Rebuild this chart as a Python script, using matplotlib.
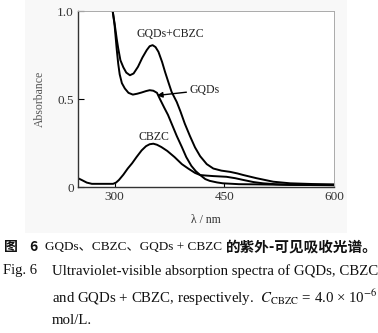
import matplotlib
matplotlib.use("Agg")
import matplotlib.pyplot as plt
from matplotlib.patches import Rectangle

plt.rcParams['mathtext.fontset'] = 'stix'

# ---- data ----
wl_mix = [297.4, 300, 303, 305, 308, 312, 316, 321, 326, 332, 338, 344, 348, 352, 356, 360,
          365, 369, 374, 378, 385, 390, 396, 403, 410, 417, 426, 435, 446, 458, 468, 476,
          494, 517, 540, 570, 600]
abs_mix = [1.0, 0.93, 0.84, 0.787, 0.72, 0.68, 0.65, 0.635, 0.645, 0.683, 0.735, 0.778, 0.80,
           0.806, 0.795, 0.768, 0.71, 0.654, 0.59, 0.54, 0.483, 0.43, 0.36, 0.29, 0.225, 0.175,
           0.13, 0.105, 0.093, 0.086, 0.077, 0.068, 0.050, 0.030, 0.021, 0.017, 0.015]

wl_gqd = [297.4, 300, 303, 305, 307, 310, 314, 319, 325, 331, 337, 343, 348, 353, 358, 362,
          368, 373, 378, 385, 392, 398, 405, 411, 417, 424, 430, 440, 448, 470, 494, 540, 600]
abs_gqd = [1.0, 0.92, 0.78, 0.70, 0.64, 0.59, 0.56, 0.535, 0.525, 0.53, 0.537, 0.545, 0.55,
           0.547, 0.535, 0.50, 0.45, 0.41, 0.36, 0.29, 0.227, 0.17, 0.12, 0.09, 0.068, 0.045,
           0.035, 0.026, 0.021, 0.016, 0.015, 0.012, 0.011]

wl_cbzc = [250, 255, 262, 269, 280, 290, 298, 302, 306, 312, 318, 324, 330, 337, 343, 348, 353,
           358, 364, 372, 382, 392, 401, 410, 417, 425, 435, 453, 465, 476, 490, 503, 520, 540,
           570, 600]
abs_cbzc = [0.05, 0.04, 0.025, 0.018, 0.018, 0.018, 0.018, 0.025, 0.04, 0.07, 0.105, 0.135,
            0.17, 0.208, 0.232, 0.243, 0.246, 0.24, 0.227, 0.205, 0.17, 0.13, 0.104, 0.08,
            0.068, 0.065, 0.062, 0.058, 0.05, 0.040, 0.028, 0.021, 0.016, 0.013, 0.011, 0.01]

x_ticks = [300, 450, 600]
x_ticklabels = ["300", "450", "600"]
y_ticks = [0, 0.5, 1.0]
y_ticklabels = ["0", "0.5", "1.0"]

W, H = 378, 333
fig = plt.figure(figsize=(W / 100, H / 100), dpi=100)
fig.patch.set_facecolor('white')

# faint background of the scanned chart region
bg = fig.add_axes([0, 0, 1, 1], zorder=-5)
bg.set_xlim(0, W)
bg.set_ylim(H, 0)
bg.axis('off')
bg.add_patch(Rectangle((25, 0), 322, 233, facecolor='#f8f8f8', edgecolor='none'))

ax = fig.add_axes([78 / W, 1 - 187 / H, (334 - 78) / W, (187 - 11) / H], zorder=2)
ax.set_facecolor('white')

serif = 'Liberation Serif'
lw = 1.4
ax.plot(wl_mix, abs_mix, color='black', lw=lw, solid_joinstyle='round')
ax.plot(wl_gqd, abs_gqd, color='black', lw=lw, solid_joinstyle='round')
ax.plot(wl_cbzc, abs_cbzc, color='black', lw=lw, solid_joinstyle='round')

ax.set_xlim(250, 600)
ax.set_ylim(0, 1.0)

for s in ['left', 'bottom']:
    ax.spines[s].set_color('#333333')
    ax.spines[s].set_linewidth(1.0)
for s in ['top', 'right']:
    ax.spines[s].set_color('#aaaaaa')
    ax.spines[s].set_linewidth(0.7)

ax.set_xticks(x_ticks)
ax.set_xticklabels(x_ticklabels, fontfamily=serif, fontsize=9.5, color='#333333')
ax.set_yticks(y_ticks)
ax.set_yticklabels(y_ticklabels, fontfamily=serif, fontsize=9.5, color='#333333')
ax.tick_params(axis='x', direction='in', length=3, width=0.8, pad=3, top=False)
ax.tick_params(axis='y', direction='in', length=4, width=0.8, pad=3, right=False)

ax.set_ylabel('Absorbance', fontfamily=serif, fontsize=8.5, color='#555555', labelpad=8)
ax.set_xlabel('λ / nm', fontfamily=serif, fontsize=8.5, color='#333333', labelpad=8)

ax.text(376, 0.87, 'GQDs+CBZC', fontfamily=serif, fontsize=8.5, ha='center', va='center',
        color='#222222')
ax.text(354, 0.285, 'CBZC', fontfamily=serif, fontsize=8.5, ha='center', va='center',
        color='#222222')
ax.annotate('GQDs', xy=(358, 0.52), xytext=(402, 0.55), fontfamily=serif, fontsize=8.5,
            ha='left', va='center', color='#222222',
            arrowprops=dict(arrowstyle='-|>', color='black', lw=1.0, mutation_scale=8,
                            shrinkA=0, shrinkB=0))

# ---- caption ----
cjk = ['Noto Sans CJK SC', 'DejaVu Sans']
def ft(xpx, ypx, s, **kw):
    fig.text(xpx / W, 1 - ypx / H, s, va='center', ha='left', **kw)

ft(4, 246.7, '图', family=cjk, fontsize=10, fontweight='bold', color='#111111')
ft(29, 246.7, '6', family=cjk, fontsize=10, fontweight='bold', color='#111111')
ft(45, 246.7, 'GQDs、CBZC、GQDs + CBZC', family=[serif, 'Noto Sans CJK SC'], fontsize=9.5,
   color='#111111')
ft(226, 246.7, '的紫外-可见吸收光谱。', family=cjk, fontsize=10.5, fontweight='bold',
   color='#111111')

ft(3, 270.7, 'Fig. 6', family=serif, fontsize=10.5, color='#111111')
ft(52, 270.7, 'Ultraviolet-visible absorption spectra of GQDs, CBZC', family=serif,
   fontsize=10.7, color='#111111')
ft(52, 298, r'and GQDs + CBZC, respectively.  $C_{\rm CBZC}$ = 4.0 × 10$^{-6}$',
   family=serif, fontsize=10.7, color='#111111')
ft(52, 320, 'mol/L.', family=serif, fontsize=10.7, color='#111111')

fig.savefig('out.png', dpi=100)
